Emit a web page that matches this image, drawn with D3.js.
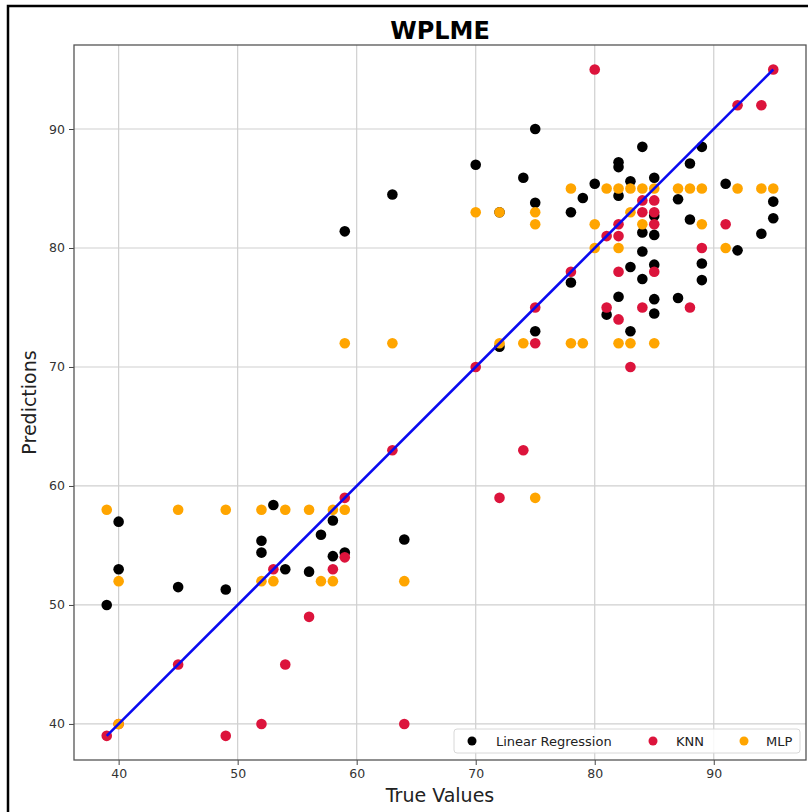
<!DOCTYPE html>
<html>
<head>
<meta charset="utf-8">
<script src="https://cdn.jsdelivr.net/npm/d3@7"></script>
<style>
  body { margin: 0; background: #fff; }
  svg { display: block; font-family: "DejaVu Sans", sans-serif; }
</style>
</head>
<body>
<script>
// test set values
const lrTrue = [39,40,40,45,49,52,52,53,54,56,57,58,58,59,59,63,64,70,72,72,74,75,75,75,78,78,79,80,81,82,82,82,82,83,83,83,84,84,84,84,85,85,85,85,85,85,87,87,88,88,89,89,89,91,92,94,95,95];
const lrPred = [50,57,53,51.5,51.3,55.4,54.4,58.4,53,52.8,55.9,57.1,54.1,54.4,81.4,84.5,55.5,87,83,71.7,85.9,90,83.8,73,83,77.1,84.2,85.4,74.4,87.2,86.8,84.4,75.9,85.6,78.4,73,88.5,81.3,79.7,77.4,85.9,82.7,81.1,78.6,75.7,74.5,84.1,75.8,87.1,82.4,88.5,78.7,77.3,85.4,79.8,81.2,83.9,82.5];

const knnTrue = [39,40,45,49,52,53,54,56,58,59,59,63,64,70,72,74,75,75,78,80,81,81,82,82,82,82,83,84,84,84,85,85,85,85,88,89,91,92,94,95];
const knnPred = [39,40,45,39,40,53,45,49,53,54,59,63,40,70,59,63,75,72,78,95,81,75,82,81,78,74,70,84,83,75,84,83,82,78,75,80,82,92,92,95];

const mlpTrue = [39,40,40,45,49,52,52,53,54,56,57,58,58,59,59,63,64,70,72,72,74,75,75,75,78,78,79,80,80,81,82,82,82,83,83,83,84,84,85,85,87,88,89,89,91,92,94,95];
const mlpPred = [58,52,40,58,58,58,52,52,58,58,52,58,52,58,72,72,52,83,83,72,72,83,82,59,85,72,72,82,80,85,85,80,72,85,83,72,85,82,85,72,85,85,85,82,80,85,85,85];

const xTicks = [40, 50, 60, 70, 80, 90];
const yTicks = [40, 50, 60, 70, 80, 90];
const idealLine = [39, 95];

const w = 808;
const h = 812;
const plotLeft = 74, plotRight = 806, plotTop = 45, plotBottom = 760;

const xScale = d3.scaleLinear()
  .domain([36.25, 97.75])
  .range([plotLeft, plotRight]);

const yScale = d3.scaleLinear()
  .domain([36.97, 97.06])
  .range([plotBottom, plotTop]);

const svg = d3.select('body')
  .append('svg')
  .attr('width', w)
  .attr('height', h);

// outer frame of the figure
svg.append('rect')
  .attr('x', 8)
  .attr('y', 6)
  .attr('width', w + 20)
  .attr('height', h + 20)
  .attr('fill', 'none')
  .attr('stroke', '#000')
  .attr('stroke-width', 2.5);

// grid
svg.append('g')
  .selectAll('line')
  .data(xTicks)
  .enter()
  .append('line')
  .attr('x1', d => xScale(d))
  .attr('x2', d => xScale(d))
  .attr('y1', plotTop)
  .attr('y2', plotBottom)
  .attr('stroke', '#cfcfcf')
  .attr('stroke-width', 1.2);

svg.append('g')
  .selectAll('line')
  .data(yTicks)
  .enter()
  .append('line')
  .attr('x1', plotLeft)
  .attr('x2', plotRight)
  .attr('y1', d => yScale(d))
  .attr('y2', d => yScale(d))
  .attr('stroke', '#cfcfcf')
  .attr('stroke-width', 1.2);

const xAxis = d3.axisBottom(xScale)
  .tickValues(xTicks)
  .tickSize(5)
  .tickPadding(4)
  .tickFormat(d3.format('d'));
const yAxis = d3.axisLeft(yScale)
  .tickValues(yTicks)
  .tickSize(5)
  .tickPadding(4)
  .tickFormat(d3.format('d'));

const gx = svg.append('g')
  .attr('transform', 'translate(0,' + plotBottom + ')')
  .call(xAxis);
const gy = svg.append('g')
  .attr('transform', 'translate(' + plotLeft + ',0)')
  .call(yAxis);

[gx, gy].forEach(g => {
  g.select('.domain').remove();
  g.selectAll('.tick line').attr('stroke', '#444');
  g.selectAll('.tick text')
    .attr('fill', '#333')
    .style('font-size', '12.5px')
    .style('font-family', '"DejaVu Sans", sans-serif');
});

// plot box
svg.append('rect')
  .attr('x', plotLeft)
  .attr('y', plotTop)
  .attr('width', plotRight - plotLeft)
  .attr('height', plotBottom - plotTop)
  .attr('fill', 'none')
  .attr('stroke', '#555')
  .attr('stroke-width', 1.3);

function scatter(xs, ys, color) {
  svg.append('g')
    .selectAll('circle')
    .data(xs.map((x, i) => [x, ys[i]]))
    .enter()
    .append('circle')
    .attr('cx', d => xScale(d[0]))
    .attr('cy', d => yScale(d[1]))
    .attr('r', 5.3)
    .attr('fill', color);
}

scatter(lrTrue, lrPred, '#000000');
scatter(knnTrue, knnPred, '#dc143c');
scatter(mlpTrue, mlpPred, '#ffa500');

svg.append('line')
  .attr('x1', xScale(idealLine[0]))
  .attr('y1', yScale(idealLine[0]))
  .attr('x2', xScale(idealLine[1]))
  .attr('y2', yScale(idealLine[1]))
  .attr('stroke', '#0a0af0')
  .attr('stroke-width', 2.6);

svg.append('text')
  .attr('x', 440)
  .attr('y', 39)
  .attr('text-anchor', 'middle')
  .style('font-size', '24px')
  .style('font-weight', 'bold')
  .text('WPLME');

svg.append('text')
  .attr('x', 440)
  .attr('y', 802)
  .attr('text-anchor', 'middle')
  .attr('fill', '#222')
  .style('font-size', '19px')
  .text('True Values');

svg.append('text')
  .attr('transform', 'translate(36,' + ((plotTop + plotBottom) / 2) + ') rotate(-90)')
  .attr('text-anchor', 'middle')
  .attr('fill', '#222')
  .style('font-size', '19px')
  .text('Predictions');

// legend
const legend = svg.append('g')
  .attr('transform', 'translate(454,729)');

legend.append('rect')
  .attr('width', 346)
  .attr('height', 24)
  .attr('rx', 3)
  .attr('fill', '#fff')
  .attr('fill-opacity', 0.85)
  .attr('stroke', '#d8d8d8');

const legendItems = [
  { label: 'Linear Regression', color: '#000000', x: 18, tx: 42 },
  { label: 'KNN', color: '#dc143c', x: 199, tx: 222 },
  { label: 'MLP', color: '#ffa500', x: 290, tx: 312 }
];

legend.selectAll('circle')
  .data(legendItems)
  .enter()
  .append('circle')
  .attr('cx', d => d.x)
  .attr('cy', 12)
  .attr('r', 4.5)
  .attr('fill', d => d.color);

legend.selectAll('text')
  .data(legendItems)
  .enter()
  .append('text')
  .attr('x', d => d.tx)
  .attr('y', 16.5)
  .attr('fill', '#222')
  .style('font-size', '13px')
  .text(d => d.label);
</script>
</body>
</html>
